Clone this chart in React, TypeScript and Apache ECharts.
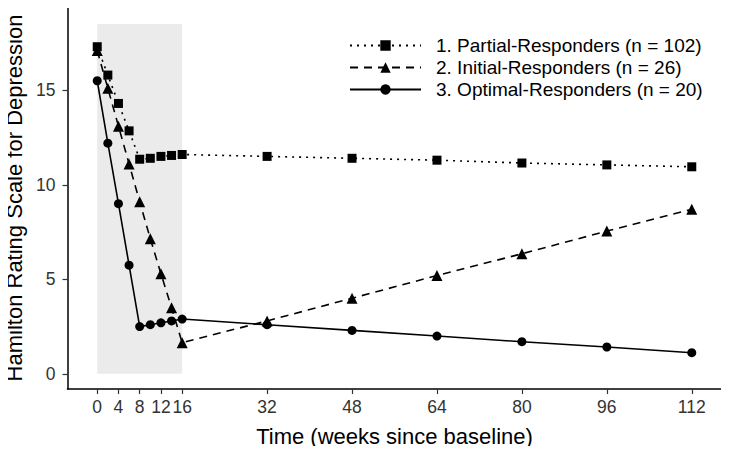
import React, { useEffect, useRef } from "react";
import * as echarts from "echarts";

const weeks = [0, 2, 4, 6, 8, 10, 12, 14, 16, 32, 48, 64, 80, 96, 112];
const partial = [17.3, 15.8, 14.3, 12.85, 11.35, 11.4, 11.5, 11.55, 11.6, 11.5, 11.4, 11.3, 11.15, 11.05, 10.95];
const initial = [17.1, 15.1, 13.1, 11.1, 9.1, 7.15, 5.3, 3.5, 1.65, 2.8, 4.0, 5.2, 6.35, 7.55, 8.7];
const optimal = [15.5, 12.2, 9.0, 5.75, 2.5, 2.6, 2.7, 2.8, 2.9, 2.6, 2.3, 2.0, 1.7, 1.42, 1.12];
const xTicks = [0, 4, 8, 12, 16, 32, 48, 64, 80, 96, 112];
const yTicks = [0, 5, 10, 15];
const shadeX = [0, 16];
const shadeY = [0, 18.5];
const names = [
  "1. Partial-Responders (n = 102)",
  "2. Initial-Responders (n = 26)",
  "3. Optimal-Responders (n = 20)",
];

const FONT = "Liberation Sans, Arial, sans-serif";

export default function App() {
  const ref = useRef<HTMLDivElement>(null);
  useEffect(() => {
    if (!ref.current) return;
    const chart = echarts.init(ref.current, undefined, { renderer: "svg" });
    const pair = (ys: number[]) => weeks.map((w, i) => [w, ys[i]]);
    chart.setOption({
      animation: false,
      textStyle: { fontFamily: FONT },
      grid: { left: 67.5, top: 7, width: 654, height: 382, containLabel: false, outerBoundsMode: "none" },
      xAxis: {
        type: "value",
        min: -5.6,
        max: 117.6,
        name: "Time (weeks since baseline)",
        nameLocation: "middle",
        nameGap: 36,
        nameTextStyle: { fontSize: 22, color: "#000", fontFamily: FONT },
        axisLine: { onZero: false, lineStyle: { color: "#000", width: 1.5 } },
        axisTick: { customValues: xTicks, length: 5, lineStyle: { color: "#333", width: 1.2 } },
        axisLabel: { customValues: xTicks, fontSize: 17.5, color: "#333", margin: 9, fontFamily: FONT },
        splitLine: { show: false },
      },
      yAxis: {
        type: "value",
        min: -0.8,
        max: 19.4,
        name: "Hamilton Rating Scale for Depression",
        nameLocation: "middle",
        nameRotate: 90,
        nameGap: 39,
        nameTextStyle: { fontSize: 22, color: "#000", fontFamily: FONT },
        axisLine: { show: true, onZero: false, lineStyle: { color: "#000", width: 1.5 } },
        axisTick: { show: true, customValues: yTicks, length: 5, lineStyle: { color: "#333", width: 1.2 } },
        axisLabel: { customValues: yTicks, fontSize: 17.5, color: "#333", margin: 12, fontFamily: FONT },
        splitLine: { show: false },
      },
      legend: {
        orient: "vertical",
        left: 349,
        top: 36,
        padding: 0,
        itemWidth: 71,
        itemHeight: 13,
        itemGap: 3,
        textStyle: { fontSize: 19, color: "#000", fontFamily: FONT, padding: [0, 0, 0, 10] },
        data: names,
      },
      series: [
        {
          type: "line",
          name: "shade",
          data: [],
          z: 0,
          silent: true,
          markArea: {
            silent: true,
            itemStyle: { color: "#ebebeb" },
            data: [[{ xAxis: shadeX[0], yAxis: shadeY[0] }, { xAxis: shadeX[1], yAxis: shadeY[1] }]],
          },
        },
        {
          type: "line",
          name: names[0],
          data: pair(partial),
          symbol: "rect",
          symbolSize: 9,
          itemStyle: { color: "#000" },
          lineStyle: { color: "#000", width: 1.6, type: [2, 5] },
          z: 3,
        },
        {
          type: "line",
          name: names[1],
          data: pair(initial),
          symbol: "triangle",
          symbolSize: 11,
          itemStyle: { color: "#000" },
          lineStyle: { color: "#000", width: 1.6, type: [8, 6] },
          z: 3,
        },
        {
          type: "line",
          name: names[2],
          data: pair(optimal),
          symbol: "circle",
          symbolSize: 9,
          itemStyle: { color: "#000" },
          lineStyle: { color: "#000", width: 1.6, type: "solid" },
          z: 3,
        },
      ],
    });
    return () => chart.dispose();
  }, []);
  return <div ref={ref} style={{ width: 729, height: 454, margin: -8 }} />;
}
